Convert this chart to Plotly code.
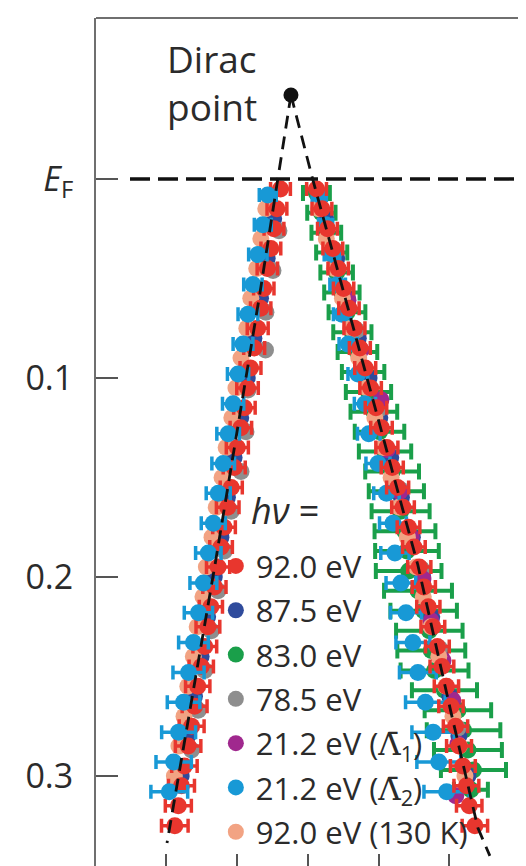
import plotly.graph_objects as go

# ---------------- data (k in 1/Angstrom, binding energy in eV) ----------------
DIRAC_K = [-0.0120]
DIRAC_E = [-0.0422]

LINE_LEFT_K = [-0.0120, -0.0212, -0.0339, -0.0657, -0.0996]
LINE_LEFT_E = [-0.0422, 0.0005, 0.0573, 0.1940, 0.3337]
LINE_RIGHT_K = [-0.0120, 0.0035, 0.0254, 0.0777, 0.1004, 0.1201, 0.1286]
LINE_RIGHT_E = [-0.0422, 0.0005, 0.0573, 0.1940, 0.2658, 0.3261, 0.3402]

# 92.0 eV
RED_E = [0.005, 0.015, 0.025, 0.035, 0.045, 0.055, 0.065, 0.075, 0.085, 0.095,
         0.105, 0.115, 0.125, 0.135, 0.145, 0.155, 0.165, 0.175, 0.185, 0.195,
         0.205, 0.215, 0.225, 0.235, 0.245, 0.255, 0.265, 0.275, 0.285, 0.295,
         0.305, 0.315, 0.325]
RED_K_LEFT = [-0.0194, -0.0219, -0.0240, -0.0262, -0.0287, -0.0312, -0.0334, -0.0355, -0.0380, -0.0406,
              -0.0427, -0.0449, -0.0474, -0.0499, -0.0521, -0.0542, -0.0567, -0.0593, -0.0614, -0.0635,
              -0.0661, -0.0686, -0.0707, -0.0729, -0.0754, -0.0779, -0.0801, -0.0822, -0.0847, -0.0873,
              -0.0894, -0.0916, -0.0941]
RED_ERR_LEFT = [0.0070, 0.0070, 0.0070, 0.0070, 0.0072, 0.0072, 0.0072, 0.0074, 0.0074, 0.0074,
                0.0076, 0.0076, 0.0076, 0.0078, 0.0078, 0.0078, 0.0080, 0.0080, 0.0080, 0.0082,
                0.0082, 0.0082, 0.0084, 0.0084, 0.0086, 0.0086, 0.0088, 0.0088, 0.0090, 0.0090,
                0.0092, 0.0092, 0.0094]
RED_K_RIGHT = [0.0061, 0.0099, 0.0138, 0.0176, 0.0214, 0.0252, 0.0290, 0.0329, 0.0367, 0.0405,
               0.0443, 0.0481, 0.0520, 0.0558, 0.0596, 0.0634, 0.0672, 0.0711, 0.0749, 0.0787,
               0.0819, 0.0851, 0.0883, 0.0915, 0.0947, 0.0979, 0.1011, 0.1043, 0.1068, 0.1095,
               0.1120, 0.1140, 0.1180]
RED_ERR_RIGHT = [0.0070, 0.0070, 0.0070, 0.0070, 0.0072, 0.0072, 0.0072, 0.0074, 0.0074, 0.0074,
                 0.0076, 0.0076, 0.0076, 0.0078, 0.0078, 0.0078, 0.0080, 0.0080, 0.0080, 0.0082,
                 0.0082, 0.0082, 0.0084, 0.0084, 0.0084, 0.0086, 0.0086, 0.0086, 0.0088, 0.0088,
                 0.0088, 0.0090, 0.0090]

# 87.5 eV
NAVY_E = [0.02, 0.04, 0.06, 0.08, 0.10, 0.12, 0.14, 0.16, 0.18, 0.20, 0.22, 0.24, 0.26, 0.28, 0.30]
NAVY_K_LEFT = [-0.0242, -0.0288, -0.0335, -0.0382, -0.0429, -0.0475, -0.0522, -0.0569,
               -0.0615, -0.0662, -0.0709, -0.0755, -0.0802, -0.0849, -0.0896]
NAVY_K_RIGHT = [0.0126, 0.0203, 0.0279, 0.0356, 0.0432, 0.0508, 0.0585, 0.0661,
                0.0738, 0.0811, 0.0875, 0.0939, 0.1003, 0.1067, 0.1131]

# 83.0 eV
GREEN_E = [0.007, 0.017, 0.027, 0.037, 0.047, 0.057, 0.067, 0.077, 0.087, 0.097,
           0.107, 0.117, 0.127, 0.137, 0.147, 0.157, 0.167, 0.177, 0.187, 0.197,
           0.207, 0.217, 0.227, 0.237, 0.247, 0.257, 0.267, 0.277, 0.287, 0.297, 0.307]
GREEN_K = [0.0060, 0.0095, 0.0130, 0.0168, 0.0203, 0.0240, 0.0276, 0.0314, 0.0350, 0.0390,
           0.0428, 0.0466, 0.0506, 0.0545, 0.0595, 0.0625, 0.0655, 0.0686, 0.0700, 0.0712,
           0.0778, 0.0818, 0.0858, 0.0872, 0.0895, 0.0965, 0.1060, 0.1100, 0.1131, 0.1170, 0.1152]
GREEN_ERR = [0.0095, 0.0100, 0.0105, 0.0110, 0.0115, 0.0125, 0.0130, 0.0135, 0.0140, 0.0150,
             0.0160, 0.0165, 0.0175, 0.0185, 0.0190, 0.0195, 0.0205, 0.0215, 0.0225, 0.0232,
             0.0240, 0.0235, 0.0235, 0.0240, 0.0240, 0.0230, 0.0235, 0.0260, 0.0240, 0.0230, 0.0120]

# 78.5 eV
GRAY_E_LEFT = [0.026, 0.046, 0.067, 0.086, 0.106, 0.127, 0.147, 0.167, 0.187, 0.207, 0.227, 0.247, 0.267, 0.287]
GRAY_K_LEFT = [-0.0205, -0.0247, -0.0297, -0.0300, -0.0424, -0.0438, -0.0473, -0.0543,
               -0.0590, -0.0636, -0.0683, -0.0730, -0.0776, -0.0823]
GRAY_E_RIGHT = [0.036, 0.076, 0.116, 0.156, 0.196, 0.236, 0.276]
GRAY_K_RIGHT = [0.0193, 0.0345, 0.0498, 0.0651, 0.0803, 0.0931, 0.1059]

# 21.2 eV (Lambda1)
PURPLE_E = [0.061, 0.086, 0.111, 0.136, 0.157, 0.180, 0.201, 0.222, 0.242, 0.262, 0.284, 0.310]
PURPLE_K = [0.0283, 0.0375, 0.0516, 0.0560, 0.0650, 0.0730, 0.0813, 0.0870, 0.0955, 0.1024, 0.1060, 0.1045]

# 21.2 eV (Lambda2)
BLUE_E = [0.008, 0.023, 0.038, 0.053, 0.068, 0.083, 0.098, 0.113, 0.128, 0.143, 0.158,
          0.173, 0.188, 0.203, 0.218, 0.233, 0.248, 0.263, 0.278, 0.293, 0.308]
BLUE_K_LEFT = [-0.0284, -0.0319, -0.0354, -0.0389, -0.0424, -0.0459, -0.0494, -0.0529, -0.0564, -0.0599, -0.0634,
               -0.0669, -0.0704, -0.0739, -0.0774, -0.0809, -0.0844, -0.0879, -0.0914, -0.0949, -0.0980]
BLUE_ERR_LEFT = [0.0060, 0.0060, 0.0065, 0.0065, 0.0070, 0.0070, 0.0075, 0.0075, 0.0080, 0.0080, 0.0085,
                 0.0085, 0.0090, 0.0095, 0.0100, 0.0105, 0.0110, 0.0115, 0.0120, 0.0125, 0.0130]
BLUE_K_RIGHT = [0.0080, 0.0125, 0.0170, 0.0210, 0.0240, 0.0285, 0.0353, 0.0403, 0.0430, 0.0495, 0.0555,
                0.0601, 0.0615, 0.0657, 0.0693, 0.0742, 0.0777, 0.0830, 0.0885, 0.0925, 0.0980]
BLUE_ERR_RIGHT = [0.0050, 0.0050, 0.0055, 0.0055, 0.0060, 0.0065, 0.0070, 0.0075, 0.0080, 0.0085, 0.0090,
                  0.0095, 0.0100, 0.0105, 0.0110, 0.0120, 0.0130, 0.0140, 0.0150, 0.0155, 0.0160]

# 92.0 eV (130 K)
SALMON_E = [0.015, 0.030, 0.045, 0.060, 0.075, 0.090, 0.105, 0.120, 0.135, 0.150,
            0.165, 0.180, 0.195, 0.210, 0.225, 0.240, 0.255, 0.270, 0.285, 0.300]
SALMON_K_LEFT = [-0.0298, -0.0333, -0.0362, -0.0404, -0.0432, -0.0473, -0.0509, -0.0538, -0.0578, -0.0607,
                 -0.0648, -0.0678, -0.0718, -0.0742, -0.0783, -0.0810, -0.0849, -0.0876, -0.0912, -0.0944]
SALMON_K_RIGHT = [0.0075, 0.0130, 0.0187, 0.0244, 0.0302, 0.0359, 0.0416, 0.0473, 0.0531, 0.0588,
                  0.0645, 0.0703, 0.0765, 0.0815, 0.0870, 0.0925, 0.0975, 0.1025, 0.1070, 0.1110]

LAMBDA_BAR = '<span style="font-family:DejaVu Serif">\u039B\u0304</span>'
SERIES_LABELS = ['92.0 eV', '87.5 eV', '83.0 eV', '78.5 eV',
                 '21.2 eV (' + LAMBDA_BAR + '<sub>1</sub>)',
                 '21.2 eV (' + LAMBDA_BAR + '<sub>2</sub>)',
                 '92.0 eV (130 K)']
Y_TICK_VALS = [0.0, 0.1, 0.2, 0.3]
Y_TICK_TEXT = ['<i>E</i><sub>F</sub>', '0.1', '0.2', '0.3']
X_TICK_VALS = [-0.10, -0.05, 0.0, 0.05, 0.10]

# ---------------- styles ----------------
C_RED = '#e8362e'
C_NAVY = '#2f4b9c'
C_GREEN = '#1a9f4a'
C_GRAY = '#8e8e8e'
C_PURPLE = '#a0288e'
C_BLUE = '#1899d6'
C_SALMON = '#f2a383'
COLORS = [C_RED, C_NAVY, C_GREEN, C_GRAY, C_PURPLE, C_BLUE, C_SALMON]
MS = 17
FONT = 'Open Sans'

fig = go.Figure()


def pts(k, e, color, err=None, thick=3.5, cap=7):
    kw = dict(x=k, y=e, mode='markers', showlegend=False, hoverinfo='skip',
              marker=dict(size=MS, color=color, line=dict(width=0)))
    if err is not None:
        kw['error_x'] = dict(type='data', array=err, color=color, thickness=thick, width=cap)
    fig.add_trace(go.Scatter(**kw))


# back to front
pts(GREEN_K, GREEN_E, C_GREEN, GREEN_ERR, thick=4, cap=8)
pts(NAVY_K_LEFT, NAVY_E, C_NAVY)
pts(NAVY_K_RIGHT, NAVY_E, C_NAVY)
pts(GRAY_K_LEFT, GRAY_E_LEFT, C_GRAY)
pts(GRAY_K_RIGHT, GRAY_E_RIGHT, C_GRAY)
pts(PURPLE_K, PURPLE_E, C_PURPLE)
pts(SALMON_K_LEFT, SALMON_E, C_SALMON)
pts(SALMON_K_RIGHT, SALMON_E, C_SALMON)
pts(BLUE_K_RIGHT, BLUE_E, C_BLUE, BLUE_ERR_RIGHT)
pts(RED_K_LEFT, RED_E, C_RED, RED_ERR_LEFT)
pts(RED_K_RIGHT, RED_E, C_RED, RED_ERR_RIGHT)
pts(BLUE_K_LEFT, BLUE_E, C_BLUE, BLUE_ERR_LEFT)

# dashed band guides
for lk, le in [(LINE_LEFT_K, LINE_LEFT_E), (LINE_RIGHT_K, LINE_RIGHT_E)]:
    fig.add_trace(go.Scatter(x=lk, y=le, mode='lines', showlegend=False, hoverinfo='skip',
                             line=dict(color='#111111', width=2.8, dash='13px,8px')))

# Dirac point
fig.add_trace(go.Scatter(x=DIRAC_K, y=DIRAC_E, mode='markers', showlegend=False, hoverinfo='skip',
                         marker=dict(size=15, color='#111111')))

# legend entries
for lab, col in zip(SERIES_LABELS, COLORS):
    fig.add_trace(go.Scatter(x=[None], y=[None], mode='markers', name=lab, legendgroup=lab,
                             marker=dict(size=20, color=col)))

# Fermi level
fig.add_shape(type='line', xref='paper', yref='y', x0=0.08, x1=1.0, y0=0, y1=0,
              line=dict(color='#111111', width=3.5, dash='20px,8px'))
# top frame
fig.add_shape(type='line', xref='paper', yref='paper', x0=0, x1=1, y0=1, y1=1,
              line=dict(color='#6f6f6f', width=2))

fig.add_annotation(xref='paper', yref='paper', x=0.162, y=0.985, xanchor='left', yanchor='top',
                   text='Dirac<br>point', showarrow=False, align='left',
                   font=dict(family=FONT, size=37, color='#2b2b2b'))
fig.add_annotation(xref='paper', yref='paper', x=0.36, y=0.4252, xanchor='left', yanchor='middle',
                   text='<i>h\u03bd</i> =', showarrow=False,
                   font=dict(family=FONT, size=36, color='#2b2b2b'))

fig.update_layout(
    width=526, height=866,
    margin=dict(l=88, r=13, t=10, b=0),
    paper_bgcolor='white', plot_bgcolor='white',
    font=dict(family=FONT, color='#2b2b2b'),
    legend=dict(x=0.282, y=0.391, xanchor='left', yanchor='top', bgcolor='rgba(0,0,0,0)',
                font=dict(family=FONT, size=31, color='#2b2b2b'), tracegroupgap=1,
                itemclick=False),
    xaxis=dict(range=[-0.1498, 0.1506], showgrid=False, zeroline=False, showline=False,
               tickvals=X_TICK_VALS, ticks='inside', ticklen=20, tickwidth=1.5, tickcolor='#555555',
               showticklabels=False, automargin=False),
    yaxis=dict(range=[0.3493, -0.0809], showgrid=False, zeroline=False,
               showline=True, linecolor='#6f6f6f', linewidth=2, mirror=True,
               tickvals=Y_TICK_VALS, ticktext=Y_TICK_TEXT, ticks='inside', ticklen=22,
               tickwidth=1.5, tickcolor='#555555', ticklabelstandoff=14, automargin=False,
               tickfont=dict(family=FONT, size=34, color='#2b2b2b')),
)

fig.write_html('out.html')
